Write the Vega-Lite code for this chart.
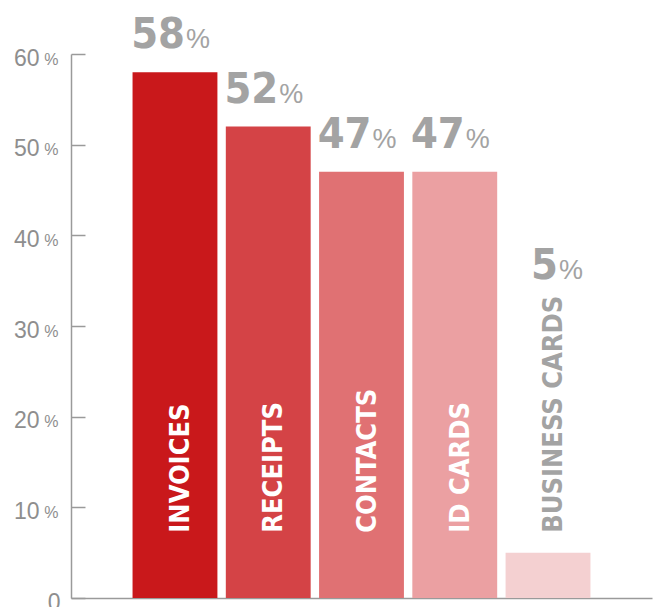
{
  "$schema": "https://vega.github.io/schema/vega-lite/v6.json",
  "width": 581,
  "height": 544,
  "autosize": "none",
  "padding": {"left": 71, "top": 54, "right": 2, "bottom": 9},
  "background": "white",
  "config": {"view": {"stroke": null}},
  "data": {
    "values": [
      {"category": "INVOICES", "value": 58, "text": "58", "color": "#c9181b", "labelColor": "white"},
      {"category": "RECEIPTS", "value": 52, "text": "52", "color": "#d44346", "labelColor": "white"},
      {"category": "CONTACTS", "value": 47, "text": "47", "color": "#e07173", "labelColor": "white"},
      {"category": "ID CARDS", "value": 47, "text": "47", "color": "#eba0a2", "labelColor": "white"},
      {"category": "BUSINESS CARDS", "value": 5, "text": "5", "color": "#f4d0d1", "labelColor": "#a3a3a3"}
    ]
  },
  "transform": [{"calculate": "max(datum.value, 32.5)", "as": "labelY"}],
  "encoding": {
    "x": {
      "field": "category", "type": "nominal", "sort": null,
      "scale": {"paddingInner": 0.09, "paddingOuter": 0.66},
      "axis": {"title": null, "labels": false, "ticks": false, "domainColor": "#9a9a9a", "domainWidth": 1.5}
    }
  },
  "layer": [
    {
      "mark": {"type": "bar", "y2Offset": -4},
      "encoding": {
        "y": {
          "field": "value", "type": "quantitative",
          "scale": {"domain": [0, 60], "nice": false},
          "axis": {
            "title": null, "grid": false, "values": [0, 10, 20, 30, 40, 50, 60],
            "labelExpr": "datum.value",
            "labelFont": "Liberation Sans", "labelFontSize": 23, "labelColor": "#8e8e8e",
            "labelAlign": "right", "labelBaseline": "middle", "labelOffset": 4,
            "labelPadding": {"condition": {"test": "datum.value == 0", "value": 25}, "value": 46},
            "tickSize": -14, "tickColor": "#9a9a9a", "tickWidth": 1.5,
            "domainColor": "#9a9a9a", "domainWidth": 1.5
          }
        },
        "color": {"field": "color", "type": "nominal", "scale": null, "legend": null}
      }
    },
    {
      "mark": {"type": "text", "align": "left", "baseline": "alphabetic", "angle": 270, "dy": 14,
               "font": "DejaVu Sans Condensed", "fontWeight": "bold", "fontSize": 27},
      "encoding": {
        "y": {"datum": 7.2, "type": "quantitative", "axis": null},
        "text": {"field": "category"},
        "color": {"field": "labelColor", "type": "nominal", "scale": null, "legend": null}
      }
    },
    {
      "mark": {"type": "text", "align": "right", "baseline": "alphabetic", "dx": 10, "dy": -24,
               "font": "DejaVu Sans Condensed", "fontWeight": "bold", "fontSize": 43, "color": "#a3a3a3"},
      "encoding": {
        "y": {"field": "labelY", "type": "quantitative", "axis": null},
        "text": {"field": "text"}
      }
    },
    {
      "mark": {"type": "text", "align": "left", "baseline": "alphabetic", "dx": 11, "dy": -24,
               "font": "Liberation Sans", "fontSize": 27, "color": "#a3a3a3"},
      "encoding": {
        "y": {
          "field": "labelY", "type": "quantitative",
          "axis": {
            "orient": "left", "title": null, "grid": false, "values": [10, 20, 30, 40, 50, 60],
            "labelExpr": "'%'", "domain": false, "ticks": false,
            "labelFont": "Liberation Sans", "labelFontSize": 16, "labelColor": "#8e8e8e",
            "labelAlign": "right", "labelBaseline": "middle", "labelOffset": 5, "labelPadding": 13
          }
        },
        "text": {"value": "%"}
      }
    }
  ],
  "resolve": {"axis": {"y": "independent"}}
}
